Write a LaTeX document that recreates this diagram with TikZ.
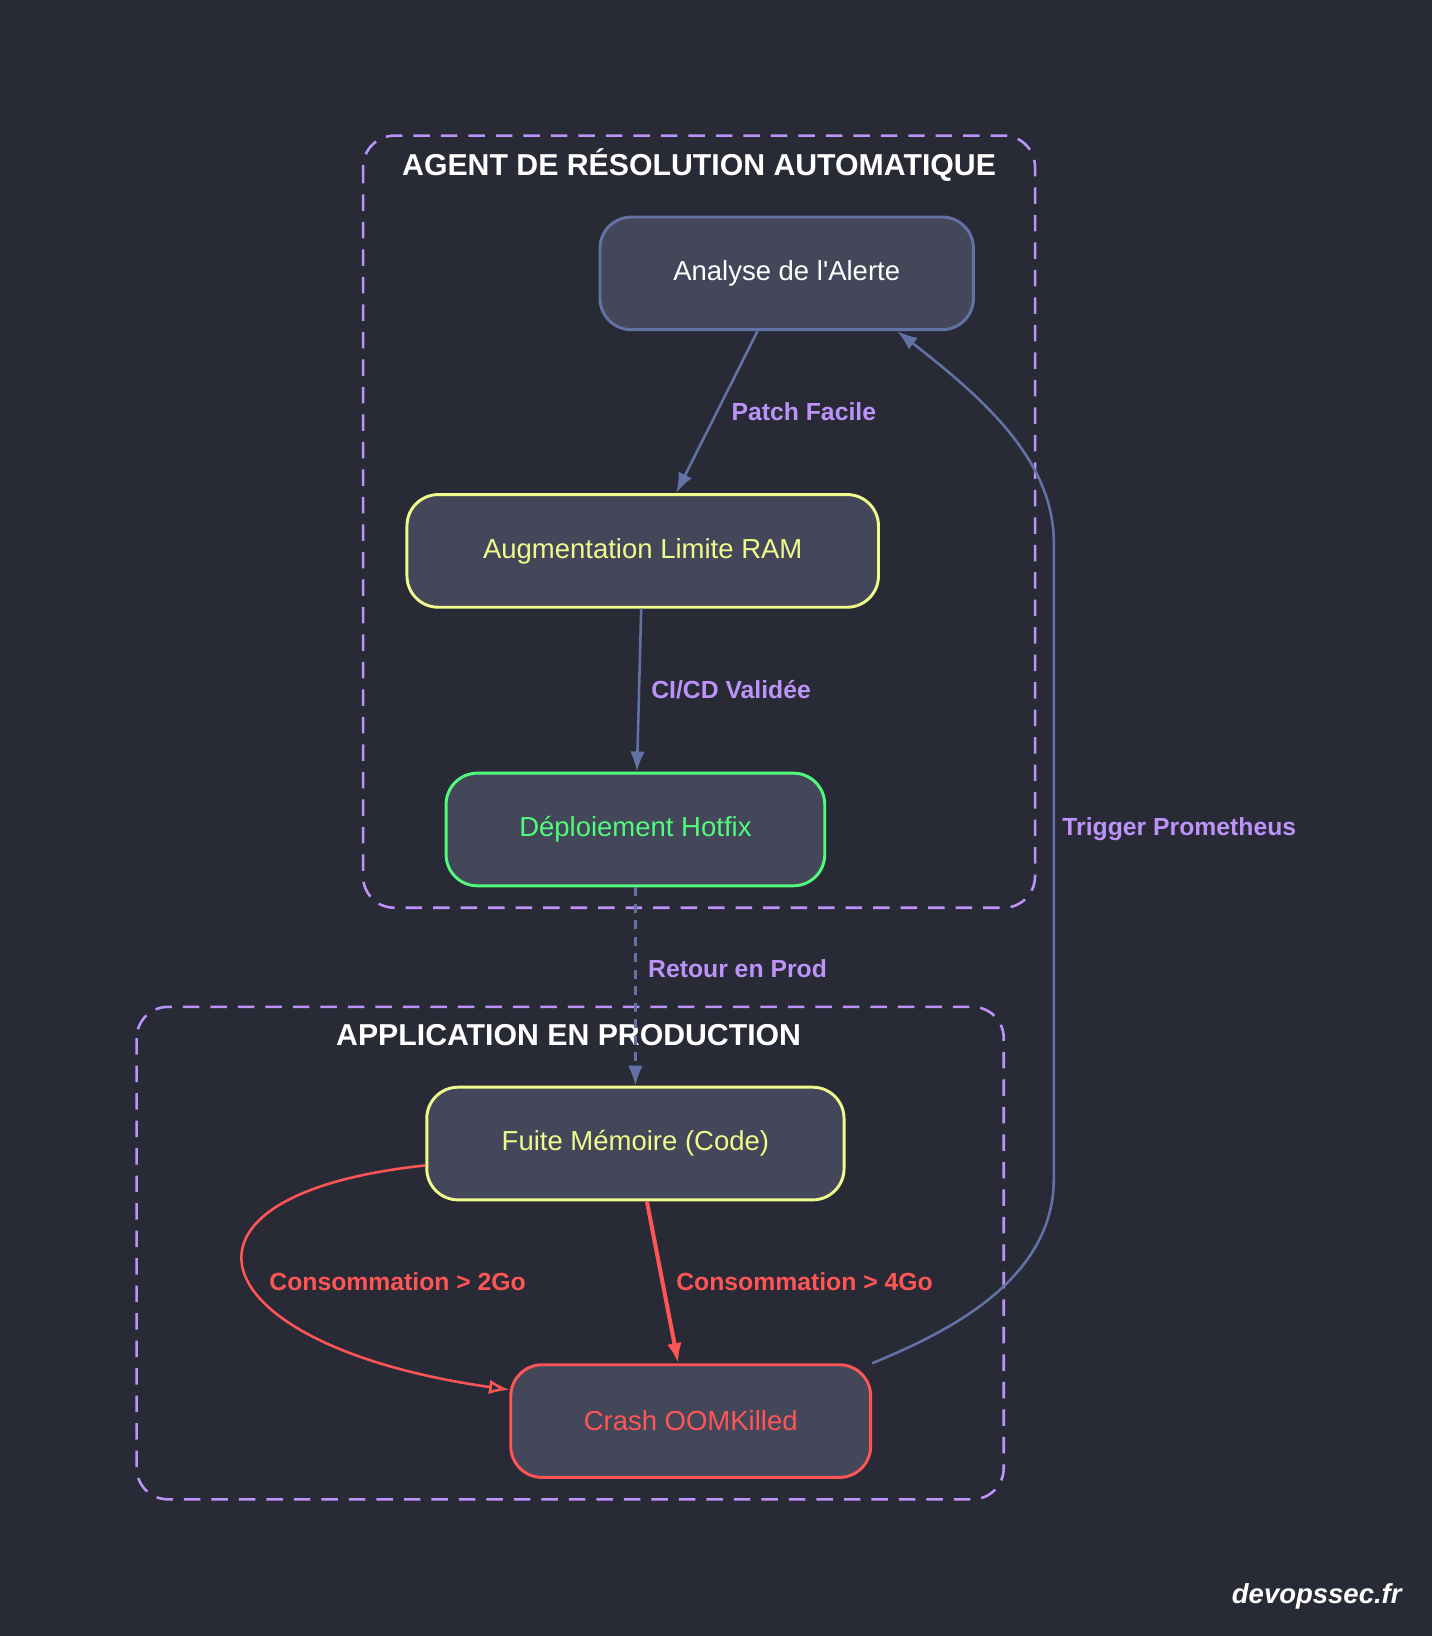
\documentclass[tikz,border=0pt]{standalone}
\usepackage{fontspec}
\setmainfont{Liberation Sans}
\usetikzlibrary{arrows.meta}
\definecolor{bgcol}{HTML}{282A36}
\definecolor{boxfill}{HTML}{44475A}
\definecolor{edgecol}{HTML}{6272A4}
\definecolor{lblcol}{HTML}{BD93F9}
\definecolor{ylw}{HTML}{F1FA8C}
\definecolor{grn}{HTML}{50FA7B}
\definecolor{rd}{HTML}{FF5555}
\tikzset{
  stepbox/.style = {draw, fill = boxfill, line width = 1.6pt, rounded corners = 0.6cm,
    minimum height = 2.16cm, font = \fontsize{15}{17}\selectfont},
  cluster/.style = {draw = lblcol, line width = 1.4pt, dash pattern = on 9pt off 6pt,
    rounded corners = 0.6cm},
  ttl/.style = {text = white, font = \bfseries\fontsize{16.5}{19}\selectfont},
  lbl/.style = {text = lblcol, font = \bfseries\fontsize{13.5}{16}\selectfont, anchor = west},
  link/.style = {draw = edgecol, line width = 1.4pt, -{Latex[length = 11pt, width = 8pt]}}
}
\begin{document}
\begin{tikzpicture}[x = 0.02cm, y = -0.02cm]

        % Background and bounding box.
        \fill [bgcol] (0, 0) rectangle (1372, 1568);
        \useasboundingbox (0, 0) rectangle (1372, 1568);

        % The two clusters.
        \draw [cluster] (348, 130) rectangle (992, 870);
        \node [ttl] at (670, 158) {AGENT DE RÉSOLUTION AUTOMATIQUE};
        \draw [cluster] (131, 965) rectangle (962, 1437);
        \node [ttl] at (545, 992) {APPLICATION EN PRODUCTION};

        % The steps.
        \node (analyse) at (754, 262) [stepbox, draw = edgecol, text = white, minimum width = 7.16cm] {Analyse de l\textquotesingle Alerte};
        \node (ram) at (616, 528) [stepbox, draw = ylw, text = ylw, minimum width = 9.04cm] {Augmentation Limite RAM};
        \node (hotfix) at (609, 795) [stepbox, draw = grn, text = grn, minimum width = 7.26cm] {Déploiement Hotfix};
        \node (fuite) at (609, 1096) [stepbox, draw = ylw, text = ylw, minimum width = 8.0cm] {Fuite Mémoire (Code)};
        \node (crash) at (662, 1362) [stepbox, draw = rd, text = rd, minimum width = 6.9cm] {Crash OOMKilled};

        % Connectors inside the agent.
        \draw [link] ([xshift = -0.56cm] analyse.south) -- ([xshift = 0.64cm] ram.north);
        \node [lbl] at (695, 395) {Patch Facile};
        \draw [link] (ram) -- (hotfix);
        \node [lbl] at (618, 661) {CI/CD Validée};

        % Back to production.
        \draw [link, dash pattern = on 5pt off 4pt] (hotfix) -- (fuite);
        \node [lbl] at (615, 928) {Retour en Prod};

        % Memory growth.
        \draw [link, draw = rd, line width = 2.2pt, -{Latex[length = 11pt, width = 8pt]}] ([xshift = 0.22cm] fuite.south) -- ([xshift = -0.24cm] crash.north);
        \node [lbl, text = rd] at (252, 1228) {Consommation > 2Go};
        \draw [link, draw = rd, -{Latex[open, length = 11pt, width = 8pt]}] ([yshift = -0.42cm] fuite.west)
            .. controls (140, 1145) and (190, 1290) .. ([yshift = 0.6cm] crash.west);
        \node [lbl, text = rd] at (642, 1228) {Consommation > 4Go};

        % Alert loop.
        \draw [link] (crash.north east) .. controls (900, 1280) and (1010, 1230) .. (1010, 1130)
            -- (1010, 520) .. controls (1010, 440) and (940, 380) .. ([xshift = 2.12cm] analyse.south);
        \node [lbl] at (1012, 795) {Trigger Prometheus};

        % Watermark.
        \node [text = white, font = \bfseries\itshape\fontsize{15}{17}\selectfont] at (1262, 1530) {devopssec.fr};
    \end{tikzpicture}
\end{document}
